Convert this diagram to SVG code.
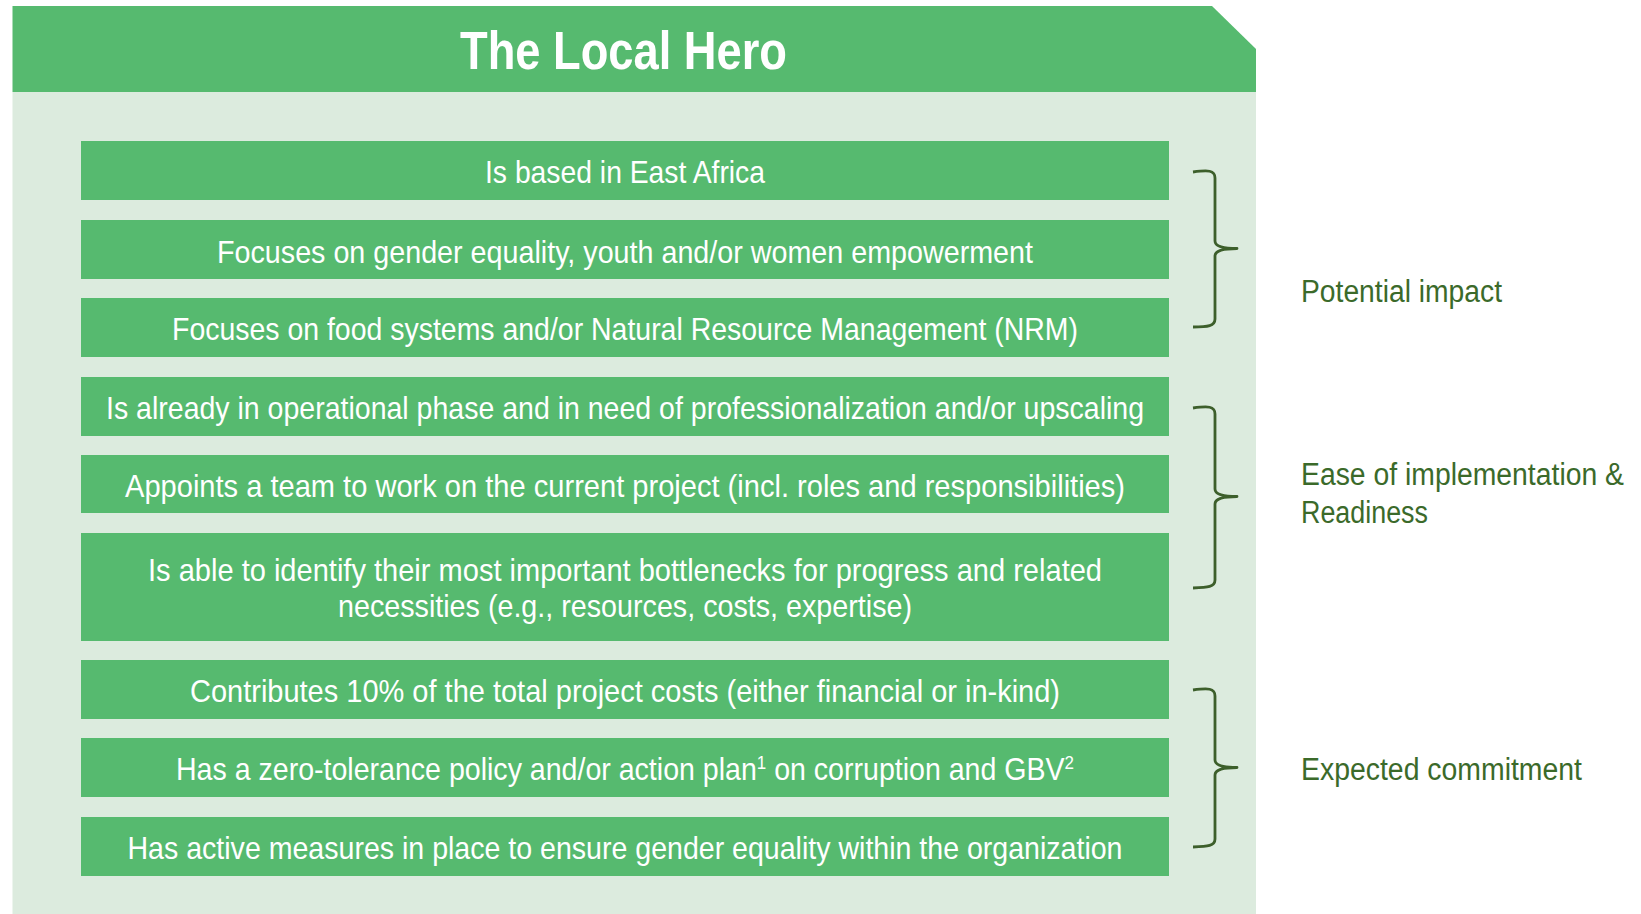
<svg xmlns="http://www.w3.org/2000/svg" width="1641" height="914" viewBox="0 0 1641 914">
<style>
.box{fill:#56BA6F}
.bt{font-family:"Liberation Sans",Arial,sans-serif;font-size:32px;fill:#FFFFFF;text-anchor:middle}
.lbl{font-family:"Liberation Sans",Arial,sans-serif;font-size:31px;fill:#3B6A2A}
.br{fill:none;stroke:#3D5F2B;stroke-width:2.8;stroke-linejoin:round;stroke-linecap:butt}
.sup{font-size:19px}
</style>
<rect x="12.5" y="92" width="1243.5" height="822" fill="#DCEBDE"/>
<g id="header">
<polygon points="12.5,6 1212,6 1256,49 1256,92 12.5,92" fill="#56BA6F"/>
<text x="623.5" y="69" font-family="'Liberation Sans',Arial,sans-serif" font-weight="bold" font-size="53" fill="#FFFFFF" text-anchor="middle" textLength="327" lengthAdjust="spacingAndGlyphs">The Local Hero</text>
</g>
<g id="n1"><rect class="box" x="81" y="141" width="1088" height="59"/><text class="bt" x="625" y="183" textLength="280" lengthAdjust="spacingAndGlyphs">Is based in East Africa</text></g>
<g id="n2"><rect class="box" x="81" y="220" width="1088" height="59"/><text class="bt" x="625" y="262.5" textLength="816" lengthAdjust="spacingAndGlyphs">Focuses on gender equality, youth and/or women empowerment</text></g>
<g id="n3"><rect class="box" x="81" y="298" width="1088" height="59"/><text class="bt" x="625" y="340" textLength="906" lengthAdjust="spacingAndGlyphs">Focuses on food systems and/or Natural Resource Management (NRM)</text></g>
<g id="n4"><rect class="box" x="81" y="377" width="1088" height="59"/><text class="bt" x="625" y="419" textLength="1038" lengthAdjust="spacingAndGlyphs">Is already in operational phase and in need of professionalization and/or upscaling</text></g>
<g id="n5"><rect class="box" x="81" y="455" width="1088" height="58"/><text class="bt" x="625" y="496.5" textLength="1000" lengthAdjust="spacingAndGlyphs">Appoints a team to work on the current project (incl. roles and responsibilities)</text></g>
<g id="n6"><rect class="box" x="81" y="533" width="1088" height="108"/><text class="bt" x="625" y="580.5" textLength="954" lengthAdjust="spacingAndGlyphs">Is able to identify their most important bottlenecks for progress and related</text><text class="bt" x="625" y="617" textLength="574" lengthAdjust="spacingAndGlyphs">necessities (e.g., resources, costs, expertise)</text></g>
<g id="n7"><rect class="box" x="81" y="660" width="1088" height="59"/><text class="bt" x="625" y="702" textLength="870" lengthAdjust="spacingAndGlyphs">Contributes 10% of the total project costs (either financial or in-kind)</text></g>
<g id="n8"><rect class="box" x="81" y="738" width="1088" height="59"/><text class="bt" x="625" y="780" textLength="898" lengthAdjust="spacingAndGlyphs">Has a zero-tolerance policy and/or action plan<tspan class="sup" dy="-11">1</tspan><tspan dy="11"> on corruption and GBV</tspan><tspan class="sup" dy="-11">2</tspan></text></g>
<g id="n9"><rect class="box" x="81" y="817" width="1088" height="59"/><text class="bt" x="625" y="859" textLength="995" lengthAdjust="spacingAndGlyphs">Has active measures in place to ensure gender equality within the organization</text></g>
<g id="connectors">
<path class="br" d="M1193,172 C1208,170 1215,170 1215,178 L1215,241 C1215,246 1221,248.5 1237,248.5 C1221,248.5 1215,251 1215,256 L1215,319 C1215,326 1208,327 1193,327"/>
<path class="br" d="M1193,408 C1208,406 1215,406 1215,414 L1215,489 C1215,494 1221,496.5 1237,496.5 C1221,496.5 1215,499 1215,504 L1215,580 C1215,587 1208,587.5 1193,588"/>
<path class="br" d="M1193,690 C1208,688 1215,688 1215,696 L1215,760 C1215,765 1221,767.5 1237,767.5 C1221,767.5 1215,770 1215,775 L1215,839 C1215,846 1208,846.5 1193,847"/>
</g>
<g id="labels">
<text class="lbl" x="1301" y="301.5" textLength="201" lengthAdjust="spacingAndGlyphs">Potential impact</text>
<text class="lbl" x="1301" y="485" textLength="323" lengthAdjust="spacingAndGlyphs">Ease of implementation &amp;</text>
<text class="lbl" x="1301" y="522.5" textLength="127" lengthAdjust="spacingAndGlyphs">Readiness</text>
<text class="lbl" x="1301" y="779.5" textLength="281" lengthAdjust="spacingAndGlyphs">Expected commitment</text>
</g>
</svg>
